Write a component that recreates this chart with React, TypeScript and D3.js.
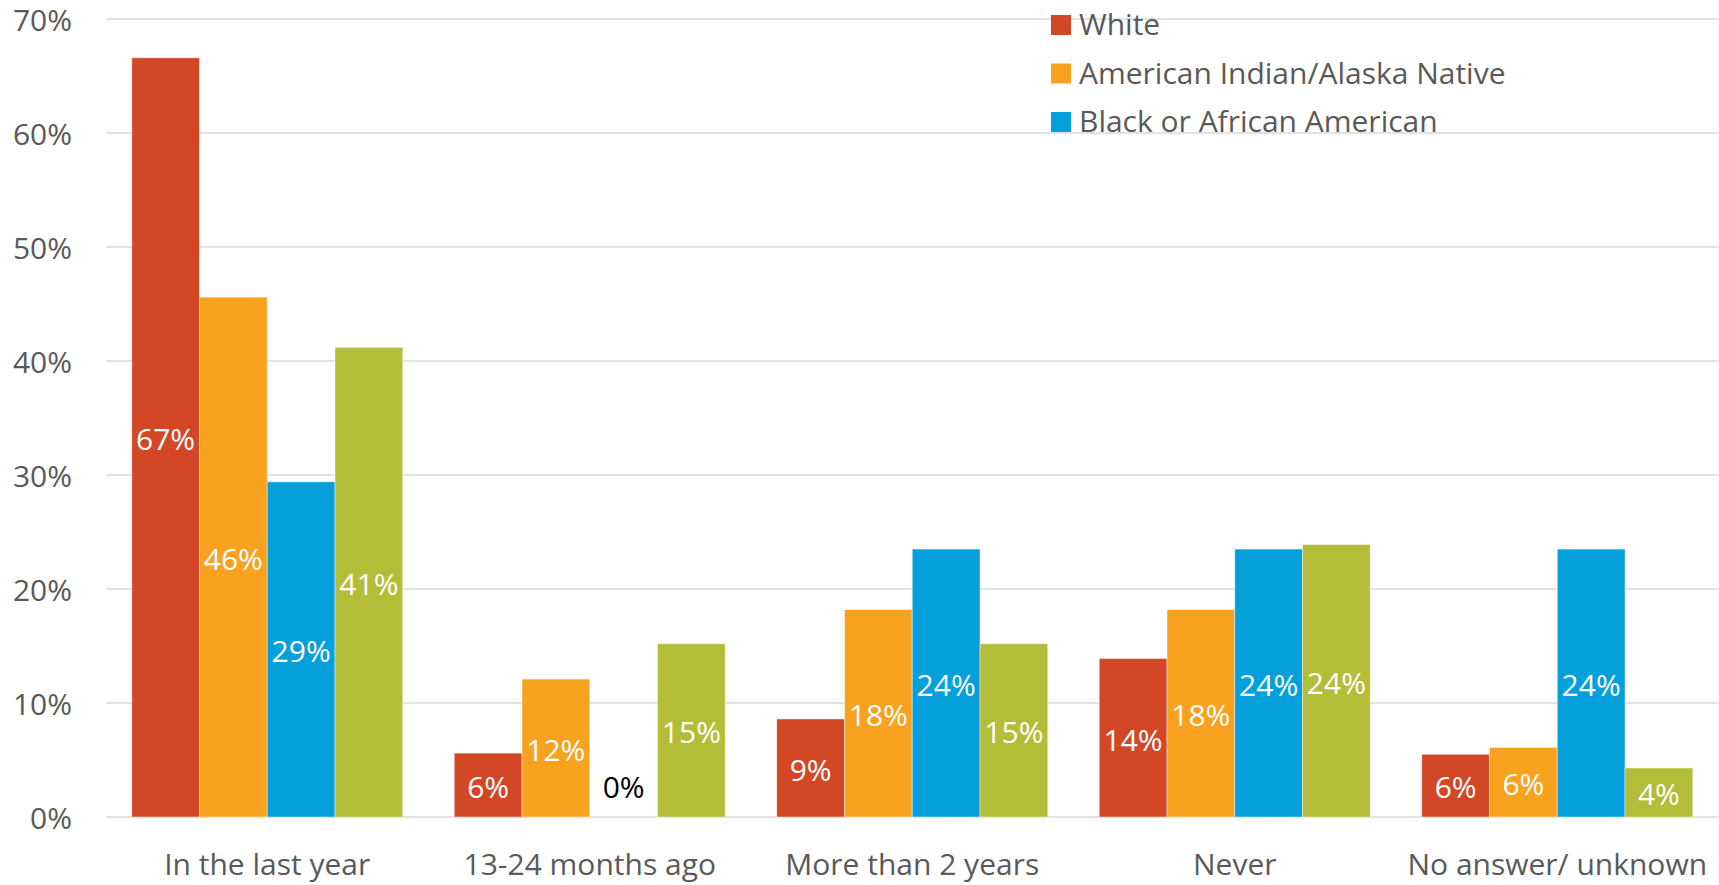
import React from "react";
import * as d3 from "d3";

const categories = ["In the last year", "13-24 months ago", "More than 2 years", "Never", "No answer/ unknown"];
const seriesNames = ["White", "American Indian/Alaska Native", "Black or African American", "Other"];
const seriesColors = ["#D34727", "#F8A21F", "#059FDB", "#B4BD38"];
const white = [66.6, 5.6, 8.6, 13.9, 5.5];
const aian = [45.6, 12.1, 18.2, 18.2, 6.1];
const black = [29.4, 0, 23.5, 23.5, 23.5];
const other = [41.2, 15.2, 15.2, 23.9, 4.3];
const seriesValues = [white, aian, black, other];
const yTicks = [0, 10, 20, 30, 40, 50, 60, 70];
const legendShown = [0, 1, 2];

const W = 1719;
const H = 885;
const FONT = "'Open Sans', 'Noto Sans', sans-serif";

export default function App() {
  const x0 = d3.scaleBand<string>().domain(categories).range([106, 1718.5]).paddingInner(0).paddingOuter(0);
  const x1 = d3.scaleBand<number>().domain([0, 1, 2, 3]).range([0, x0.step()]).paddingInner(0).paddingOuter(0.38);
  const y = d3.scaleLinear().domain([0, 70]).range([817, 19]);

  return (
    <svg width={W} height={H} style={{ position: "absolute", left: 0, top: 0, background: "#fff" }} fontFamily={FONT}>
      {yTicks.map((t) => (
        <g key={t}>
          <line x1={106} x2={1718.5} y1={y(t)} y2={y(t)} stroke="#d9d9d9" strokeWidth={1.5} />
          <text x={72} y={y(t) + 1} dy="0.36em" textAnchor="end" fontSize={30} fill="#595959">{t}%</text>
        </g>
      ))}
      {categories.map((c, ci) => (
        <g key={c}>
          {seriesValues.map((vals, si) => {
            const v = vals[ci];
            const bx = (x0(c) as number) + (x1(si) as number);
            const bw = x1.bandwidth();
            const top = y(v);
            const base = y(0);
            const isZero = v === 0;
            const cy = isZero ? base - 30 : (top + base) / 2 + 2;
            return (
              <g key={si}>
                {!isZero && (
                  <rect x={bx} y={top} width={bw} height={base - top} fill={seriesColors[si]} stroke="#ffffff" strokeOpacity={0.45} strokeWidth={1} />
                )}
                <text x={bx + bw / 2} y={cy} dy="0.36em" textAnchor="middle" fontSize={30} fill={isZero ? "#000000" : "#ffffff"}>
                  {Math.round(v)}%
                </text>
              </g>
            );
          })}
          <text x={(x0(c) as number) + x0.bandwidth() / 2} y={875} textAnchor="middle" fontSize={30} fill="#595959">{c}</text>
        </g>
      ))}
      {legendShown.map((si, i) => (
        <g key={si}>
          <rect x={1051} y={15 + i * 48.5} width={20} height={20} fill={seriesColors[si]} />
          <text x={1079} y={35 + i * 48.5} fontSize={30} fill="#595959">{seriesNames[si]}</text>
        </g>
      ))}
    </svg>
  );
}
